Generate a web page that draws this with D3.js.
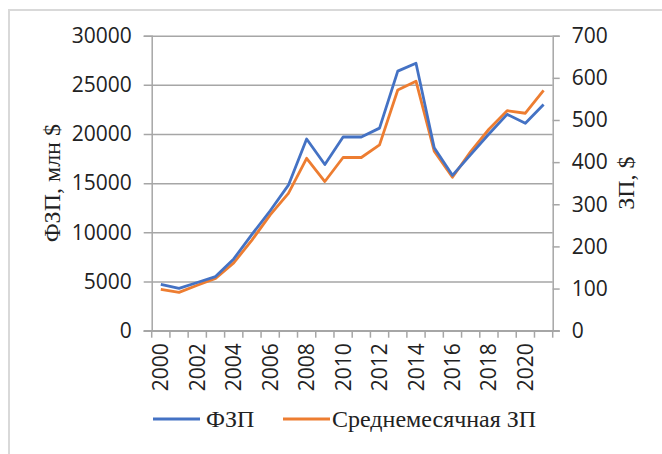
<!DOCTYPE html>
<html>
<head>
<meta charset="utf-8">
<script src="https://cdn.jsdelivr.net/npm/d3@7"></script>
<style>
  body { margin: 0; background: #fff; }
  svg { display: block; }
</style>
</head>
<body>
<svg></svg>
<script>
const years = [2000, 2001, 2002, 2003, 2004, 2005, 2006, 2007, 2008, 2009, 2010,
               2011, 2012, 2013, 2014, 2015, 2016, 2017, 2018, 2019, 2020, 2021]
const fzp = [4700, 4300, 4900, 5500, 7300, 9800, 12200, 14800, 19500, 16900, 19700,
             19700, 20600, 26400, 27200, 18600, 15800, 17900, 20000, 22000, 21100, 23000]
const avgWage = [98, 91, 108, 124, 161, 215, 275, 326, 409, 354, 411,
                 411, 441, 571, 592, 426, 364, 425, 478, 522, 516, 570]
const leftTicks = [0, 5000, 10000, 15000, 20000, 25000, 30000]
const rightTicks = [0, 100, 200, 300, 400, 500, 600, 700]
const seriesNames = ["ФЗП", "Среднемесячная ЗП"]
const colors = ["#4472C4", "#ED7D31"]

let svgWidth = 662, svgHeight = 454
let plotL = 151.7, plotR = 552.7, plotT = 35.7, plotB = 330.7
let tickFont = "'Open Sans', sans-serif"
let serif = "'Liberation Serif', 'Times New Roman', serif"
let gridColor = "#a6a6a6"

let svg = d3.select('svg')
    .attr('width', svgWidth)
    .attr('height', svgHeight)

// frame of the chart area
svg.append('rect')
    .attr('x', 9).attr('y', 10)
    .attr('width', 700).attr('height', 500)
    .attr('fill', 'none')
    .attr('stroke', '#d9d9d9')
    .attr('stroke-width', 2)

let x = d3.scaleBand().domain(years).range([plotL, plotR])
let yL = d3.scaleLinear().domain([0, 30000]).range([plotB, plotT])
let yR = d3.scaleLinear().domain([0, 700]).range([plotB, plotT])

// horizontal gridlines + left ticks
svg.append('g')
    .attr('transform', 'translate(' + plotL + ',0)')
    .call(d3.axisLeft(yL).tickValues(leftTicks).tickSize(8).tickPadding(12).tickFormat(d3.format('d')))
    .call(g => g.select('.domain').attr('stroke', gridColor).attr('stroke-width', 1.5))
    .call(g => g.selectAll('.tick line').attr('stroke', gridColor).attr('stroke-width', 1.5)
        .attr('x2', -8).attr('x1', plotR - plotL))
    .call(g => g.selectAll('.tick text').attr('font-family', tickFont).attr('font-size', 21)
        .attr('fill', '#222'))

// right axis
svg.append('g')
    .attr('transform', 'translate(' + plotR + ',0)')
    .call(d3.axisRight(yR).tickValues(rightTicks).tickSize(7).tickPadding(12))
    .call(g => g.select('.domain').attr('stroke', gridColor).attr('stroke-width', 1.5))
    .call(g => g.selectAll('.tick line').attr('stroke', gridColor).attr('stroke-width', 1.5))
    .call(g => g.selectAll('.tick text').attr('font-family', tickFont).attr('font-size', 21)
        .attr('fill', '#222'))

// bottom axis: ticks between categories
let xb = svg.append('g')
xb.append('line')
    .attr('x1', plotL - 8).attr('x2', plotR + 7)
    .attr('y1', plotB).attr('y2', plotB)
    .attr('stroke', gridColor).attr('stroke-width', 1.5)
xb.selectAll('line.tk')
    .data(years.concat([null]))
    .enter()
    .append('line')
    .attr('class', 'tk')
    .attr('x1', (d, i) => plotL + x.step() * i)
    .attr('x2', (d, i) => plotL + x.step() * i)
    .attr('y1', plotB).attr('y2', plotB + 7)
    .attr('stroke', gridColor).attr('stroke-width', 1.5)
xb.selectAll('text')
    .data(years.filter(d => d % 2 === 0))
    .enter()
    .append('text')
    .text(d => d)
    .attr('transform', d => 'translate(' + (x(d) + x.bandwidth() / 2) + ',' + (plotB + 12.5) + ') rotate(-90)')
    .attr('text-anchor', 'end')
    .attr('dy', '0.36em')
    .attr('font-family', tickFont)
    .attr('font-size', 21)
    .attr('fill', '#222')

// lines
let cx = d => x(d) + x.bandwidth() / 2
let lineL = d3.line().x((d, i) => cx(years[i])).y(d => yL(d))
let lineR = d3.line().x((d, i) => cx(years[i])).y(d => yR(d))

svg.append('path')
    .datum(avgWage)
    .attr('d', lineR)
    .attr('fill', 'none')
    .attr('stroke', colors[1])
    .attr('stroke-width', 2.8)
    .attr('stroke-linejoin', 'round')

svg.append('path')
    .datum(fzp)
    .attr('d', lineL)
    .attr('fill', 'none')
    .attr('stroke', colors[0])
    .attr('stroke-width', 2.8)
    .attr('stroke-linejoin', 'round')

// axis titles
svg.append('text')
    .text('ФЗП, млн $')
    .attr('transform', 'translate(52,' + ((plotT + plotB) / 2) + ') rotate(-90)')
    .attr('text-anchor', 'middle')
    .attr('dy', '0.35em')
    .attr('font-family', serif)
    .attr('font-size', 24)
    .attr('fill', '#222')

svg.append('text')
    .text('ЗП, $')
    .attr('transform', 'translate(626,' + ((plotT + plotB) / 2) + ') rotate(-90)')
    .attr('text-anchor', 'middle')
    .attr('dy', '0.35em')
    .attr('font-family', serif)
    .attr('font-size', 24)
    .attr('fill', '#222')

// legend
let legendX = [153, 283]
let legend = svg.selectAll('g.leg')
    .data(seriesNames)
    .enter()
    .append('g')
    .attr('class', 'leg')
    .attr('transform', (d, i) => 'translate(' + legendX[i] + ',419)')
legend.append('line')
    .attr('x1', 0).attr('x2', 47)
    .attr('stroke', (d, i) => colors[i])
    .attr('stroke-width', 2.8)
legend.append('text')
    .text(d => d)
    .attr('x', (d, i) => i === 0 ? 53 : 49)
    .attr('dy', '0.35em')
    .attr('font-family', serif)
    .attr('font-size', 24)
    .attr('fill', '#222')
</script>
</body>
</html>
